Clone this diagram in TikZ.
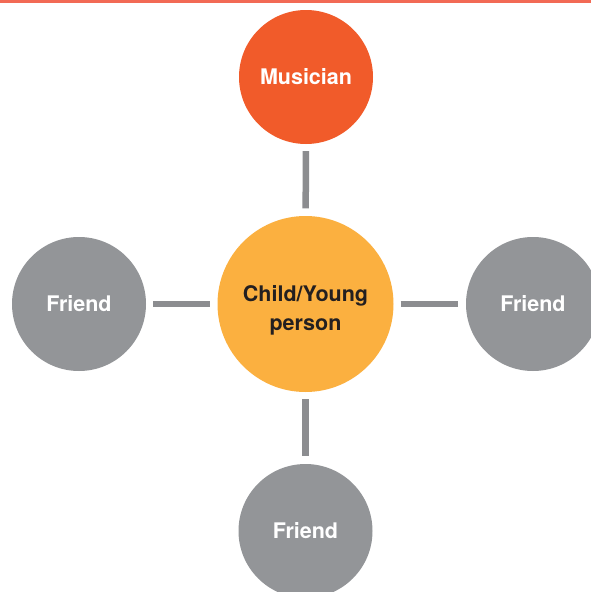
\documentclass[tikz,border=0pt]{standalone}
\usepackage{fontspec}
\setmainfont{TeX Gyre Heros}
\definecolor{musicorange}{HTML}{F15B2A}
\definecolor{childyellow}{HTML}{FBB040}
\definecolor{friendgrey}{HTML}{939598}
\definecolor{linkgrey}{HTML}{8C8D90}
\definecolor{topline}{HTML}{F26A55}
\definecolor{darktext}{HTML}{231F20}

\tikzstyle{person} = [circle,
    inner sep=0pt,
    minimum size=134pt,
    align=center,
    font=\fontsize{21.5}{29}\selectfont\bfseries,
    text=white]
\tikzstyle{musician} = [person,
    fill=musicorange]
\tikzstyle{friend} = [person,
    fill=friendgrey]
\tikzstyle{child} = [person,
    minimum size=176pt,
    fill=childyellow]
\tikzstyle{childtext} = [align=center,
    font=\fontsize{21.5}{29}\selectfont\bfseries,
    text=darktext,
    yshift=-6.5pt]
\tikzstyle{link} = [line width=6.5pt,
    draw=linkgrey,
    shorten <=7pt,
    shorten >=7.5pt]

\begin{document}
\begin{tikzpicture}[x=1pt,y=-1pt]
            \clip (0,0) rectangle (591,592);
            \fill[white] (0,0) rectangle (591,592);
            \fill[topline] (0,0) rectangle (591,2.5);
            \node (child) [child, label={[childtext]center:Child/Young\\person}] at (305.5,304) {};
            \node (musician) [musician] at (306,77) {Musician};
            \node (friendl) [friend] at (79,304) {Friend};
            \node (friendr) [friend] at (533,304) {Friend};
            \node (friendb) [friend] at (305.5,531) {Friend};
            \draw [link] (musician) -- (child);
            \draw [link] (friendl) -- (child);
            \draw [link] (child) -- (friendr);
            \draw [link] (child) -- (friendb);
        \end{tikzpicture}
\end{document}
